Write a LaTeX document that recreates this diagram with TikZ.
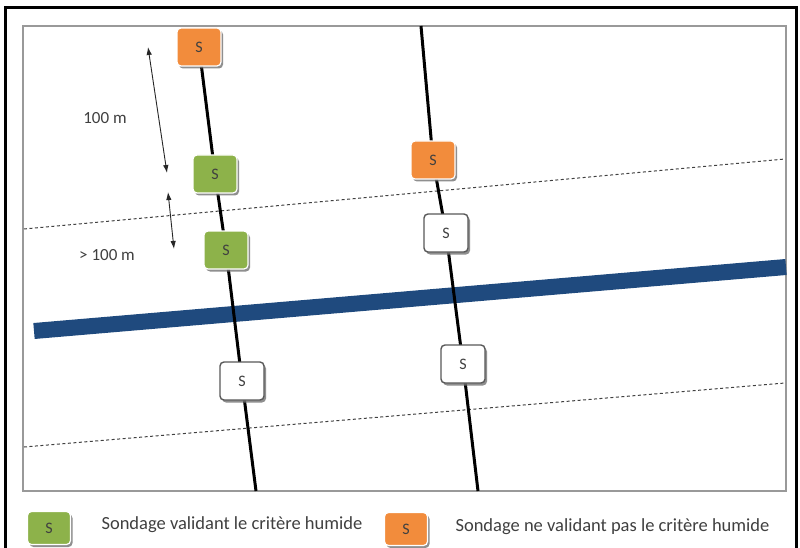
\documentclass[tikz,border=0pt]{standalone}
\usepackage{fontspec}
\setmainfont{Carlito}
\usetikzlibrary{shadows,arrows.meta}
\definecolor{sorange}{HTML}{F28C3C}
\definecolor{sgreen}{HTML}{8DB24A}
\definecolor{sblue}{HTML}{1F4A7E}
\definecolor{stext}{HTML}{404040}
\tikzset{
  sbox/.style={rounded corners=4pt, minimum width=44pt, minimum height=38pt, inner sep=0pt,
    font=\fontsize{16}{16}\selectfont, text=stext,
    drop shadow={shadow xshift=2pt, shadow yshift=-2.5pt, fill=black!55, opacity=0.8}},
  orangebox/.style={sbox, fill=sorange, draw=white, line width=1.2pt},
  greenbox/.style={sbox, fill=sgreen, draw=white, line width=1.2pt},
  whitebox/.style={sbox, fill=white, draw=black!65, line width=1.4pt},
  legendbox/.style={minimum width=43pt, minimum height=33pt},
  survey/.style={line width=3pt, black},
  dimarrow/.style={{Latex[length=8pt,width=5.5pt]}-{Latex[length=8pt,width=5.5pt]}, line width=0.9pt, black!85},
  dimlabel/.style={font=\fontsize{17}{17}\selectfont, text=stext},
  legendtext/.style={font=\fontsize{18.5}{18.5}\selectfont, text=stext, anchor=west},
  boundary/.style={dashed, dash pattern=on 3pt off 2.5pt, line width=1pt, black!75},
}
\begin{document}
\begin{tikzpicture}[x=1pt,y=-1pt]
\useasboundingbox (0,0) rectangle (800,548);
\fill[white] (0,0) rectangle (800,548);
% outer frame
\draw[line width=3pt, black] (5,8) rectangle (796,556);
% inner frame
\draw[line width=2pt, black!40] (23,26) rectangle (786,491);
% dashed boundaries
\coordinate (d1a) at (24,229);
\coordinate (d1b) at (785,159);
\coordinate (d2a) at (24,447);
\coordinate (d2b) at (785,383);
\draw[boundary] (d1a) -- (d1b);
\draw[boundary] (d2a) -- (d2b);
% watercourse
\coordinate (wa) at (34,331);
\coordinate (wb) at (786,267);
\draw[sblue, line width=16pt] (wa) -- (wb);
% survey line end points
\coordinate (lbot) at (256,491);
\coordinate (rtop) at (421,26);
\coordinate (rbot) at (478,491);
% positions of the soundings
\coordinate (po1) at (199,47);
\coordinate (pg1) at (215,174);
\coordinate (pg2) at (226,250);
\coordinate (pw1) at (242,381);
\coordinate (po2) at (433,160);
\coordinate (pw2) at (446,233);
\coordinate (pw3) at (463,364);
% survey lines
\draw[survey] (po1) -- (pg1) -- (pg2) -- (pw1) -- (lbot);
\draw[survey] (rtop) -- (po2) -- (pw2) -- (pw3) -- (rbot);
% soundings
\node[orangebox] (o1) at (po1) {S};
\node[greenbox] (g1) at (pg1) {S};
\node[greenbox] (g2) at (pg2) {S};
\node[whitebox] (w1) at (pw1) {S};
\node[orangebox] (o2) at (po2) {S};
\node[whitebox] (w2) at (pw2) {S};
\node[whitebox] (w3) at (pw3) {S};
% dimension arrows
\coordinate (a1) at (148,47);
\coordinate (a2) at (167,173);
\coordinate (a3) at (168,192);
\coordinate (a4) at (174,249);
\draw[dimarrow] (a1) -- (a2);
\draw[dimarrow] (a3) -- (a4);
\node[dimlabel] (l100) at (105,118) {100 m};
\node[dimlabel] (lgt100) at (107,255) {> 100 m};
% legend
\node[greenbox, legendbox] (lg) at (49,528) {S};
\node[legendtext] (tg) at (98,525) {Sondage validant le critère humide};
\node[orangebox, legendbox] (lo) at (406,529) {S};
\node[legendtext] (to) at (452,527) {Sondage ne validant pas le critère humide};
\end{tikzpicture}
\end{document}
